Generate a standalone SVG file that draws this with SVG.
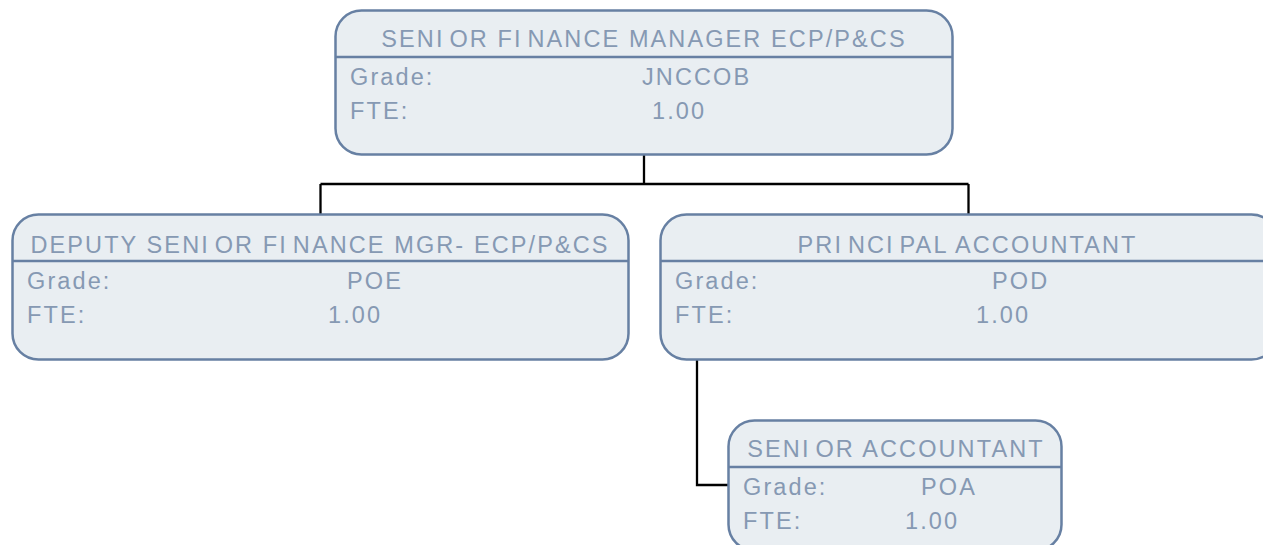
<svg xmlns="http://www.w3.org/2000/svg" width="1263" height="545" viewBox="0 0 1263 545">
<style>
.box{fill:#e9eef2;stroke:#6780a3;stroke-width:2.5}
.sep{stroke:#6780a3;stroke-width:2.5}
.t{font-family:"Liberation Sans",Arial,sans-serif;font-size:23.5px;fill:#8699b3;letter-spacing:2.1px}
.c{text-anchor:middle}
.i{letter-spacing:7px}
.conn{fill:none;stroke:#000;stroke-width:2.3}
</style>
<rect width="1263" height="545" fill="#fff"/>
<g id="connectors">
<path class="conn" d="M644 154V184M320.5 184H968.5M320.5 184V214M968.5 184V214"/>
<path class="conn" d="M697 359V485H728"/>
</g>
<g id="node-senior-finance-manager">
<rect class="box" x="335.5" y="10.5" width="617" height="144" rx="26"/>
<line class="sep" x1="335.5" y1="57" x2="952.5" y2="57"/>
<text class="t c" x="644" y="46.5">SEN<tspan class="i">I</tspan>OR F<tspan class="i">I</tspan>NANCE MANAGER ECP/P&amp;CS</text>
<text class="t" x="350" y="85">Grade:</text>
<text class="t" x="642" y="85">JNCCOB</text>
<text class="t" x="350" y="118.5">FTE:</text>
<text class="t" x="652" y="118.5">1.00</text>
</g>
<g id="node-deputy-senior-finance-mgr">
<rect class="box" x="12.5" y="214.5" width="616" height="145" rx="26"/>
<line class="sep" x1="12.5" y1="261" x2="628.5" y2="261"/>
<text class="t c" x="320" y="252.5">DEPUTY SEN<tspan class="i">I</tspan>OR F<tspan class="i">I</tspan>NANCE MGR- ECP/P&amp;CS</text>
<text class="t" x="27" y="289">Grade:</text>
<text class="t" x="347" y="289">POE</text>
<text class="t" x="27" y="323">FTE:</text>
<text class="t" x="328" y="323">1.00</text>
</g>
<g id="node-principal-accountant">
<rect class="box" x="660.5" y="214.5" width="617" height="145" rx="26"/>
<line class="sep" x1="660.5" y1="261" x2="1277.5" y2="261"/>
<text class="t c" x="967.5" y="252.5">PR<tspan class="i">I</tspan>NC<tspan class="i">I</tspan>PAL ACCOUNTANT</text>
<text class="t" x="675" y="289">Grade:</text>
<text class="t" x="992" y="289">POD</text>
<text class="t" x="675" y="323">FTE:</text>
<text class="t" x="976" y="323">1.00</text>
</g>
<g id="node-senior-accountant">
<rect class="box" x="728.5" y="420.5" width="333" height="130" rx="26"/>
<line class="sep" x1="728.5" y1="467" x2="1061.5" y2="467"/>
<text class="t c" x="896" y="457">SEN<tspan class="i">I</tspan>OR ACCOUNTANT</text>
<text class="t" x="743" y="494.5">Grade:</text>
<text class="t" x="921" y="494.5">POA</text>
<text class="t" x="743" y="528.5">FTE:</text>
<text class="t" x="905" y="528.5">1.00</text>
</g>
</svg>
